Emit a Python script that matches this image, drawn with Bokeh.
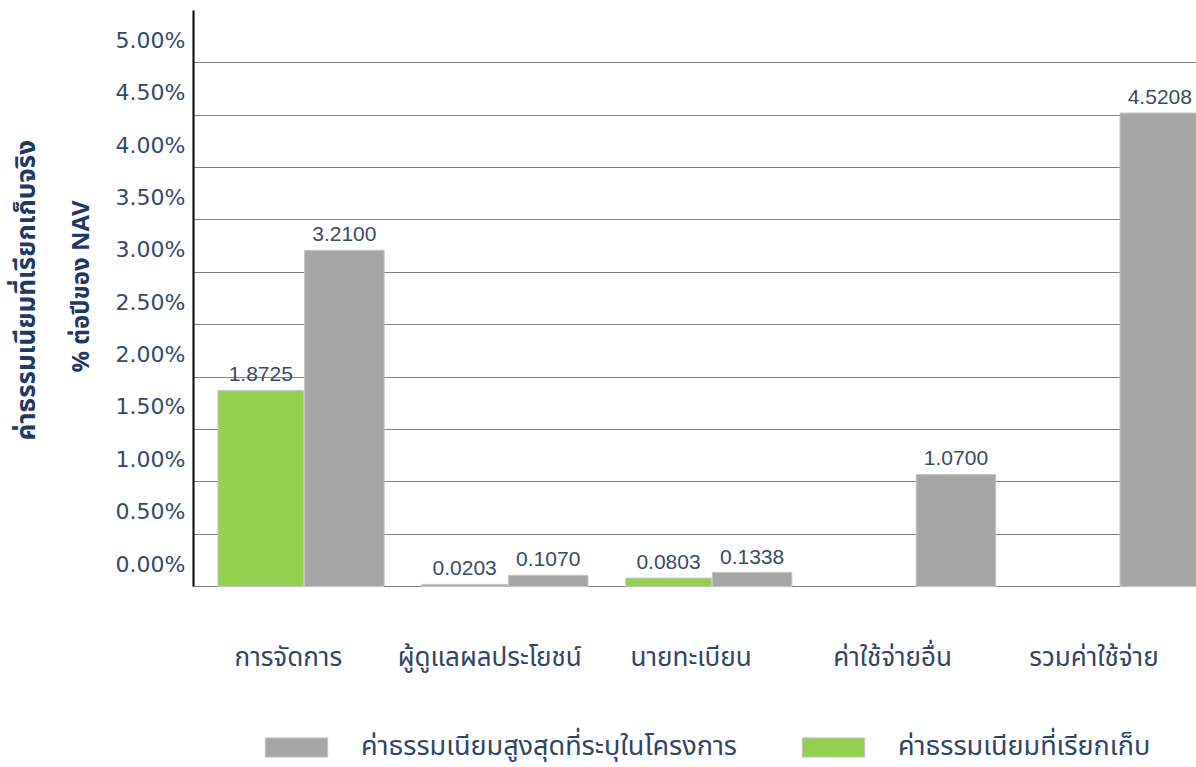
from bokeh.plotting import figure
from bokeh.models import (ColumnDataSource, Range1d, FixedTicker, Title,
                          Legend, LegendItem)
from bokeh.core.properties import value
from bokeh.embed import file_html
from bokeh.resources import INLINE

# ---- data ----
categories = ["การจัดการ", "ผู้ดูแลผลประโยชน์", "นายทะเบียน", "ค่าใช้จ่ายอื่น", "รวมค่าใช้จ่าย"]
max_fee = [3.2100, 0.1070, 0.1338, 1.0700, 4.5208]          # gray
actual_fee_cats = ["การจัดการ", "ผู้ดูแลผลประโยชน์", "นายทะเบียน"]
actual_fee = [1.8725, 0.0203, 0.0803]                        # green
y_tick_values = [0.0, 0.5, 1.0, 1.5, 2.0, 2.5, 3.0, 3.5, 4.0, 4.5, 5.0]
y_tick_labels = ["0.00%", "0.50%", "1.00%", "1.50%", "2.00%", "2.50%",
                 "3.00%", "3.50%", "4.00%", "4.50%", "5.00%"]
series_names = ["ค่าธรรมเนียมสูงสุดที่ระบุในโครงการ", "ค่าธรรมเนียมที่เรียกเก็บ"]
y_title_outer = "ค่าธรรมเนียมที่เรียกเก็บจริง"
y_title_inner = "% ต่อปีของ NAV"

# ---- styling ----
GRAY = "#A6A6A6"
GREEN = "#92D050"
TXT = "#34496A"
NAVY = "#1F3864"
THAI_FONT = "Tahoma, 'Noto Sans Thai', 'Noto Sans', sans-serif"

idx = {c: i for i, c in enumerate(categories)}
gray_src = ColumnDataSource(dict(
    x=[idx[c] + 0.20 for c in categories],
    top=max_fee,
    lbl=["%.4f" % v for v in max_fee],
))
green_src = ColumnDataSource(dict(
    x=[idx[c] - 0.21 for c in actual_fee_cats],
    top=actual_fee,
    lbl=["%.4f" % v for v in actual_fee],
))
cat_src = ColumnDataSource(dict(
    x=[idx[c] - 0.075 - 0.012 * idx[c] for c in categories],
    y=[0.0] * len(categories),
    text=categories,
))

# the frame runs down to the bottom of the page so that the legend and the
# category labels can live inside it; y = 0 sits where the original x axis is
p = figure(width=1196, height=767, output_backend="svg",
           toolbar_location=None,
           x_range=Range1d(-0.54, 4.38), y_range=Range1d(-1.728, 5.5),
           min_border_left=193, min_border_right=0, min_border_top=10,
           min_border_bottom=0)
p.outline_line_color = None
p.background_fill_color = "white"
p.border_fill_color = "white"
p.xaxis.visible = False

r_gray = p.vbar(x="x", top="top", width=0.39, bottom=0, source=gray_src,
                fill_color=GRAY, line_color="#C4C4C4", line_width=1)
r_green = p.vbar(x="x", top="top", width=0.42, bottom=0, source=green_src,
                 fill_color=GREEN, line_color="#C4C4C4", line_width=1)

for src in (gray_src, green_src):
    p.text(x="x", y="top", text="lbl", source=src, text_align="center",
           text_baseline="bottom", y_offset=-9,
           text_font=value("Liberation Sans"), text_font_size="21px",
           text_color="#3B4A63")

# category labels below the baseline
p.text(x="x", y="y", text="text", source=cat_src, text_align="center",
       text_baseline="middle", y_offset=71,
       text_font=value(THAI_FONT), text_font_size="26px",
       text_color="#2F4466")

# grid
p.xgrid.visible = False
p.ygrid.ticker = FixedTicker(ticks=y_tick_values)
p.ygrid.grid_line_color = "black"
p.ygrid.grid_line_dash = "1 1"
p.ygrid.grid_line_width = 1

# y axis (labels sit above their gridlines, as in the source)
ytick_pos = [v + 0.215 for v in y_tick_values]
yax = p.yaxis[0]
yax.bounds = (0, 5.5)
yax.ticker = FixedTicker(ticks=ytick_pos)
yax.major_label_overrides = {t: l for t, l in zip(ytick_pos, y_tick_labels)}
yax.major_tick_line_color = None
yax.minor_tick_line_color = None
yax.major_tick_out = 0
yax.major_tick_in = 0
yax.major_label_standoff = 8
yax.major_label_text_font = "DejaVu Sans"
yax.major_label_text_font_size = "22px"
yax.major_label_text_color = TXT
yax.axis_line_color = "black"
yax.axis_line_width = 2

# rotated axis titles, anchored at the bottom and pushed up like the original
p.add_layout(Title(text=y_title_inner, align="left", offset=395, standoff=26,
                   text_font=THAI_FONT, text_font_style="bold",
                   text_font_size="24px", text_color=NAVY), "left")
p.add_layout(Title(text=y_title_outer, align="left", offset=327, standoff=4,
                   text_font=THAI_FONT, text_font_style="bold",
                   text_font_size="26px", text_color=NAVY), "left")

legend = Legend(items=[LegendItem(label=series_names[0], renderers=[r_gray]),
                       LegendItem(label=series_names[1], renderers=[r_green])],
                orientation="horizontal", location=(64, 0),
                glyph_width=78, glyph_height=24, label_standoff=26, spacing=57,
                label_text_font=THAI_FONT, label_text_font_size="27px",
                label_text_color="#2F4466", border_line_color=None,
                background_fill_alpha=0, margin=0, padding=0)
p.add_layout(legend, "center")

open("out.html", "w").write(file_html(p, INLINE))
